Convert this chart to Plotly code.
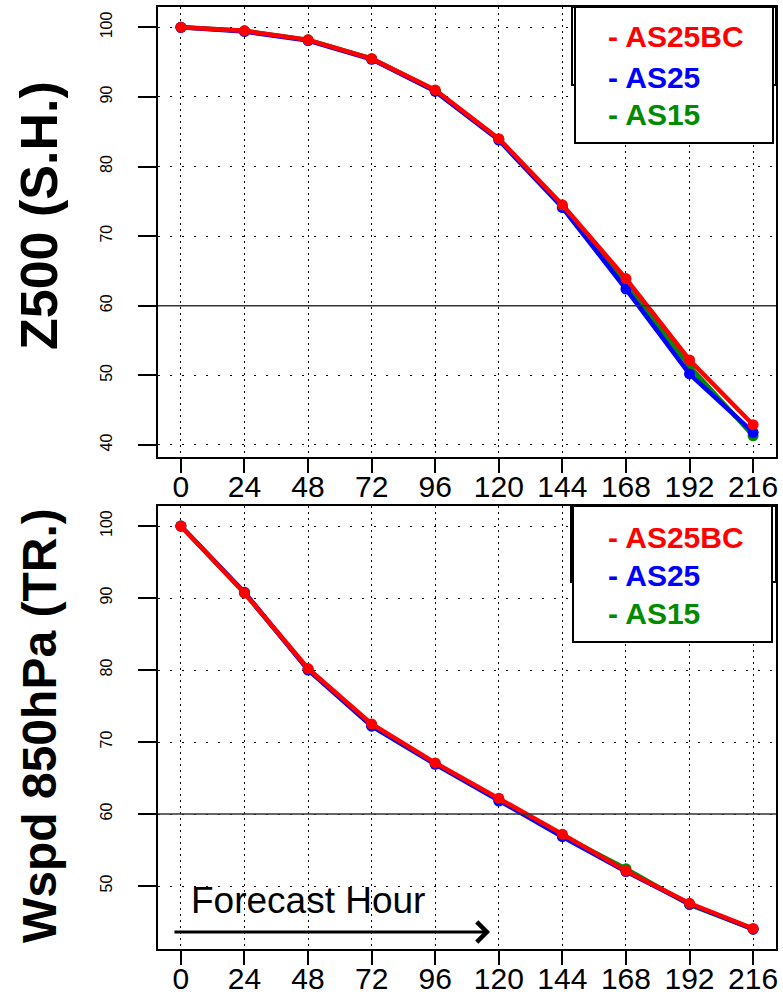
import plotly.graph_objects as go

# ---------------- data ----------------
hours = [0, 24, 48, 72, 96, 120, 144, 168, 192, 216]
series_names = ["AS25BC", "AS25", "AS15"]
series_colors = ["#FF0000", "#0000FF", "#008B00"]

z500_as25bc = [100, 99.5, 98.2, 95.5, 91.0, 84.0, 74.5, 63.9, 52.2, 42.9]
z500_as25 = [100, 99.4, 98.1, 95.4, 90.8, 83.8, 74.1, 62.4, 50.2, 41.8]
z500_as15 = [100, 99.5, 98.2, 95.5, 90.9, 83.9, 74.3, 63.2, 51.3, 41.3]

wspd_as25bc = [100, 90.7, 80.2, 72.5, 67.1, 62.2, 57.2, 52.1, 47.6, 44.1]
wspd_as25 = [100, 90.8, 80.0, 72.2, 66.9, 61.8, 56.85, 52.0, 47.5, 44.0]
wspd_as15 = [100, 90.7, 80.1, 72.3, 67.0, 62.0, 57.0, 52.4, 47.4, 44.0]

y_ticks = [40, 50, 60, 70, 80, 90, 100]
panel_titles = ["Z500 (S.H.)", "Wspd 850hPa (TR.)"]
ref_line = 60

# ---------------- layout helpers ----------------
W, H = 783, 995


def px(x):
    return x / W


def py(y):
    return 1 - y / H


fig = go.Figure()

panels = [
    (["x", "y"], [z500_as25bc, z500_as25, z500_as15]),
    (["x2", "y2"], [wspd_as25bc, wspd_as25, wspd_as15]),
]

for (xa, ya), vals in panels:
    # draw AS15 first, then AS25, AS25BC on top
    for i in [2, 1, 0]:
        fig.add_trace(go.Scatter(
            x=hours, y=vals[i], mode="lines+markers", name=series_names[i],
            xaxis=xa, yaxis=ya, showlegend=False,
            line=dict(color=series_colors[i], width=4.5),
            marker=dict(color=series_colors[i], size=11),
        ))

FONT = "Liberation Sans, Arial, Helvetica"

xcommon = dict(
    range=[-8.64, 224.64], tickmode="array", tickvals=hours,
    ticktext=[str(h) for h in hours],
    showline=True, mirror=True, linecolor="black", linewidth=2,
    ticks="outside", ticklen=14, tickwidth=2, tickcolor="black",
    tickfont=dict(family=FONT, size=30, color="black"),
    ticklabelstandoff=-12,
    showgrid=True, gridcolor="black", gridwidth=1.3, griddash="2px,4px",
    zeroline=False, domain=[px(158), px(776)], automargin=False,
)
ycommon = dict(
    tickmode="array", tickvals=y_ticks, ticktext=[str(v) for v in y_ticks],
    tickangle=-90,
    showline=True, mirror=True, linecolor="black", linewidth=2,
    ticks="outside", ticklen=18, tickwidth=2, tickcolor="black",
    tickfont=dict(family=FONT, size=16, color="black"),
    ticklabelstandoff=20,
    showgrid=True, gridcolor="black", gridwidth=1.3, griddash="2px,10px",
    zeroline=False, automargin=False,
)

fig.update_layout(
    template="none",
    width=W, height=H, margin=dict(l=0, r=0, t=0, b=0, pad=0),
    paper_bgcolor="white", plot_bgcolor="white",
    font=dict(family=FONT, color="black"),
    xaxis=dict(**xcommon, anchor="y"),
    yaxis=dict(**ycommon, range=[38.26, 102.92], anchor="x",
               domain=[py(457), py(7)]),
    xaxis2=dict(**xcommon, anchor="y2"),
    yaxis2=dict(**ycommon, range=[41.25, 102.78], anchor="x2",
                domain=[py(949), py(506)]),
)

shapes = []
annotations = []

# reference line at 60 in both panels
for xa, ya in [("x", "y"), ("x2", "y2")]:
    shapes.append(dict(type="line", xref=f"{xa} domain", yref=ya,
                       x0=0, x1=1, y0=ref_line, y1=ref_line,
                       line=dict(color="#333333", width=1.6), layer="above"))

# legends (back box + front box + coloured labels)
legend_geo = [
    dict(back=(572, 7, 776, 85), box=(575, 7, 773, 143), rows=[37, 77, 115]),
    dict(back=(571, 506, 776, 582), box=(573, 506, 772, 642), rows=[537, 575, 613]),
]
for g in legend_geo:
    bx0, by0, bx1, by1 = g["back"]
    shapes.append(dict(type="rect", xref="paper", yref="paper",
                       x0=px(bx0), x1=px(bx1), y0=py(by1), y1=py(by0),
                       line=dict(color="black", width=2), fillcolor="white",
                       layer="above"))
    fx0, fy0, fx1, fy1 = g["box"]
    shapes.append(dict(type="rect", xref="paper", yref="paper",
                       x0=px(fx0), x1=px(fx1), y0=py(fy1), y1=py(fy0),
                       line=dict(color="black", width=2), fillcolor="white",
                       layer="above"))
    for name, col, ry in zip(series_names, series_colors, g["rows"]):
        annotations.append(dict(
            xref="paper", yref="paper", x=px(606), y=py(ry),
            xanchor="left", yanchor="middle", showarrow=False,
            text=f"<b>- {name}</b>",
            font=dict(family=FONT, size=30, color=col),
        ))

# panel y titles
for title, cy, size in zip(panel_titles, [216, 726], [52, 48]):
    annotations.append(dict(
        xref="paper", yref="paper", x=px(39), y=py(cy),
        xanchor="center", yanchor="middle", showarrow=False,
        textangle=-90, text=f"<b>{title}</b>",
        font=dict(family=FONT, size=size, color="black"),
    ))

# Forecast Hour label + arrow
annotations.append(dict(
    xref="paper", yref="paper", x=px(189), y=py(900),
    xanchor="left", yanchor="middle", showarrow=False,
    text="Forecast Hour", font=dict(family=FONT, size=37, color="black"),
))
annotations.append(dict(
    xref="paper", yref="paper", x=px(490), y=py(932),
    ax=-(490 - 173), ay=0, axref="pixel", ayref="pixel",
    text="", showarrow=True, arrowhead=4, arrowsize=1.3,
    arrowwidth=3, arrowcolor="black",
))

fig.update_layout(shapes=shapes, annotations=annotations)

fig.write_html("out.html")
